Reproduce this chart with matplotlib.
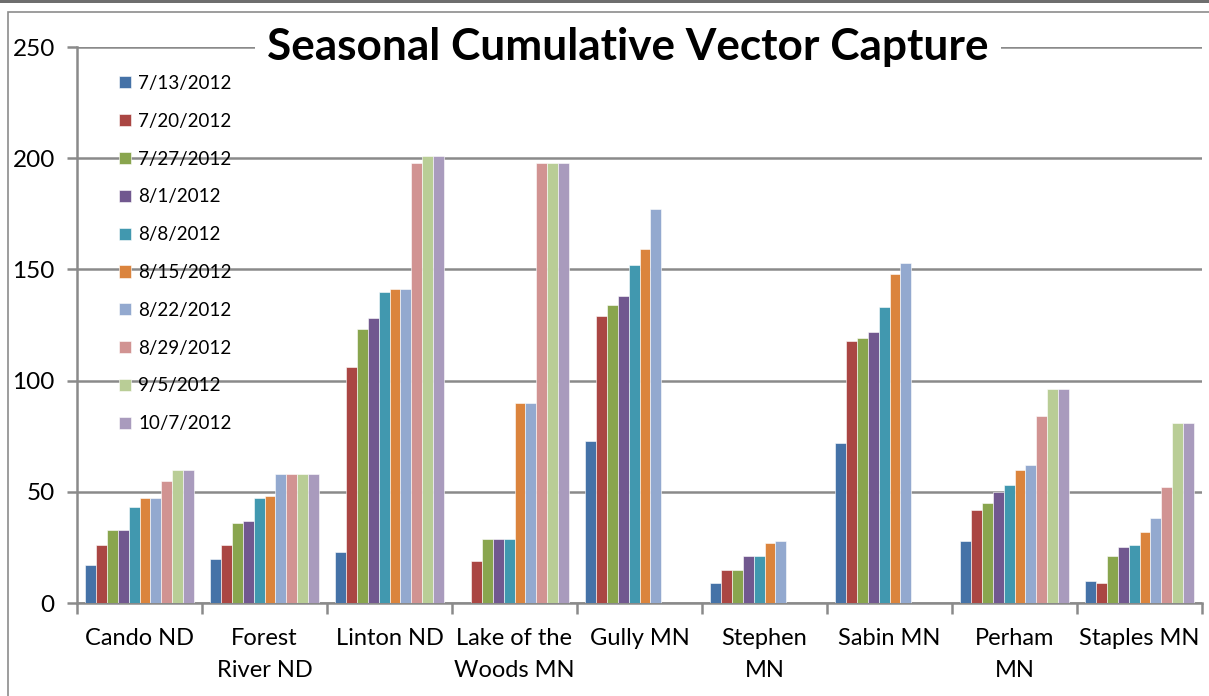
import numpy as np
import matplotlib
matplotlib.use("Agg")
import matplotlib.pyplot as plt
from matplotlib.patches import Rectangle

categories = ["Cando ND", "Forest\nRiver ND", "Linton ND", "Lake of the\nWoods MN",
              "Gully MN", "Stephen\nMN", "Sabin MN", "Perham\nMN", "Staples MN"]
dates = ["7/13/2012", "7/20/2012", "7/27/2012", "8/1/2012", "8/8/2012",
         "8/15/2012", "8/22/2012", "8/29/2012", "9/5/2012", "10/7/2012"]
nan = np.nan
# one list per site, one value per date
cando = [17, 26, 33, 33, 43, 47, 47, 55, 60, 60]
forest_river = [20, 26, 36, 37, 47, 48, 58, 58, 58, 58]
linton = [23, 106, 123, 128, 140, 141, 141, 198, 201, 201]
lake_woods = [nan, 19, 29, 29, 29, 90, 90, 198, 198, 198]
gully = [73, 129, 134, 138, 152, 159, 177, nan, nan, nan]
stephen = [9, 15, 15, 21, 21, 27, 28, nan, nan, nan]
sabin = [72, 118, 119, 122, 133, 148, 153, nan, nan, nan]
perham = [28, 42, 45, 50, 53, 60, 62, 84, 96, 96]
staples = [10, 9, 21, 25, 26, 32, 38, 52, 81, 81]
colors = ["#4572A7", "#AA4643", "#89A54E", "#71588F", "#4198AF",
          "#DB843D", "#93A9CF", "#D19392", "#B9CD96", "#A99BBD"]

data = np.array([cando, forest_river, linton, lake_woods, gully,
                 stephen, sabin, perham, staples], dtype=float)

FONT = "Lato"
plt.rcParams['font.family'] = [FONT, 'DejaVu Sans']

W, H = 1209, 696
fig = plt.figure(figsize=(W / 100, H / 100), dpi=100)
fig.patch.set_facecolor("white")

# outer chart border
fig.add_artist(Rectangle((8 / W, -0.01), 1.02, 1 - 12 / H + 0.01, transform=fig.transFigure,
                         fill=False, edgecolor="#8c8c8c", linewidth=1.2))
fig.add_artist(Rectangle((0, 1 - 3 / H), 1, 3 / H, transform=fig.transFigure,
                         facecolor="#6e6e6e", edgecolor="none"))

left, right, top, bottom = 77, 1202, 47, 603
ax = fig.add_axes([left / W, 1 - bottom / H, (right - left) / W, (bottom - top) / H])

n = len(categories)
x = np.arange(n)
nb = len(dates)
bw = 0.087
handles = []
for j in range(nb):
    offs = (j - (nb - 1) / 2) * bw
    b = ax.bar(x + offs, data[:, j], width=bw, color=colors[j], edgecolor="white",
               linewidth=0.4, zorder=3, label=dates[j])
    handles.append(b)

ax.set_xlim(-0.5, n - 0.5)
ax.set_ylim(0, 250)
ax.set_yticks(np.arange(0, 251, 50))
ax.yaxis.grid(True, color="#8a8a8a", linewidth=1.8, zorder=0)
ax.set_axisbelow(True)
for s in ["top", "right"]:
    ax.spines[s].set_visible(False)
ax.spines["left"].set_color("#8a8a8a")
ax.spines["left"].set_linewidth(1.8)
ax.spines["bottom"].set_color("#8a8a8a")
ax.spines["bottom"].set_linewidth(1.8)
ax.tick_params(axis="y", length=7, width=1.8, color="#8a8a8a", labelsize=17.5, pad=9)
ax.set_xticks(np.arange(-0.5, n, 1.0))
ax.set_xticklabels([])
ax.set_xticks(x, minor=True)
ax.set_xticklabels(categories, minor=True, fontsize=17, linespacing=1.62)
ax.tick_params(axis="x", which="major", length=8, width=1.8, color="#8a8a8a")
ax.tick_params(axis="x", which="minor", length=0, pad=18)
for lab in ax.get_xticklabels(minor=True):
    lab.set_verticalalignment("top")

fig.text(628 / W, 1 - 47 / H, "Seasonal Cumulative Vector Capture", ha="center", va="center",
         fontsize=31.8, fontweight="bold", zorder=10,
         bbox=dict(facecolor="white", edgecolor="none", pad=9))

leg = ax.legend(handles=handles, loc="upper left", bbox_to_anchor=(119 / W, 1 - 75 / H),
                bbox_transform=fig.transFigure, frameon=False, fontsize=13.5,
                handlelength=0.62, handleheight=0.62, handletextpad=0.4, labelspacing=1.11,
                borderaxespad=0, borderpad=0)

fig.savefig("out.png", dpi=100)
